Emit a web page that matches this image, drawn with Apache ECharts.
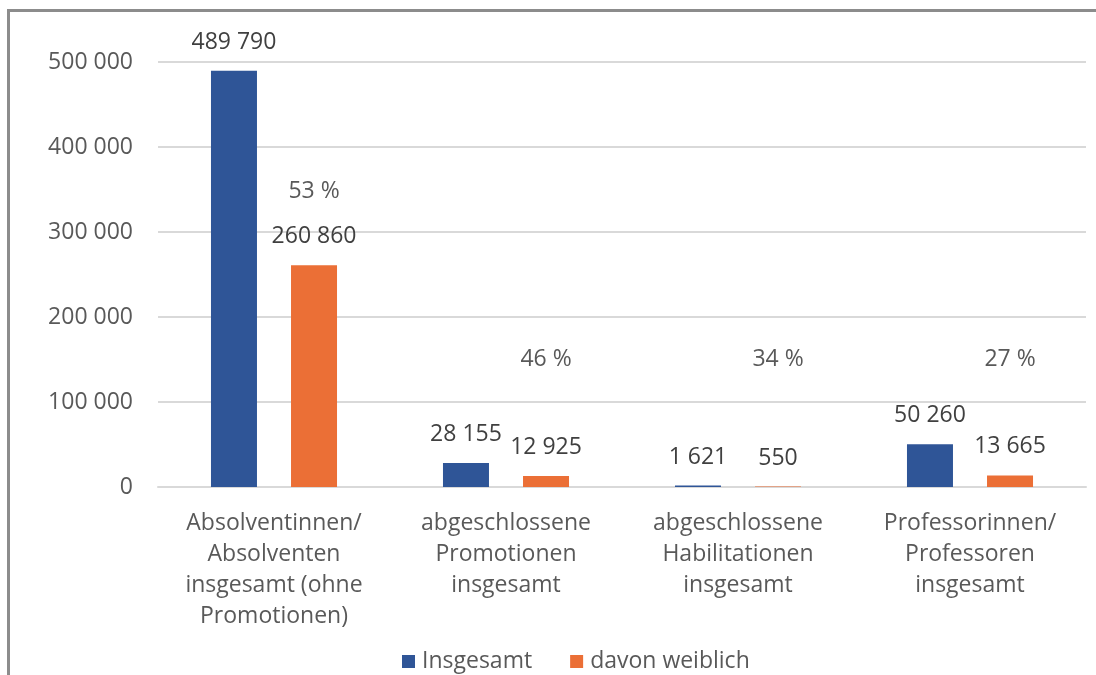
<!DOCTYPE html>
<html>
<head>
<meta charset="utf-8">
<script src="https://cdn.jsdelivr.net/npm/echarts@6/dist/echarts.min.js"></script>
<style>
  html, body { margin: 0; padding: 0; background: #ffffff; }
  #chart { width: 1096px; height: 675px; }
</style>
</head>
<body>
<div id="chart"></div>
<script>
// Categories and values
const categories = [
  'Absolventinnen/\nAbsolventen\ninsgesamt (ohne\nPromotionen)',
  'abgeschlossene\nPromotionen\ninsgesamt',
  'abgeschlossene\nHabilitationen\ninsgesamt',
  'Professorinnen/\nProfessoren\ninsgesamt'
];
const insgesamt = [489790, 28155, 1621, 50260];
const weiblich = [260860, 12925, 550, 13665];
const seriesNames = ['Insgesamt', 'davon weiblich'];
const yTicks = [0, 100000, 200000, 300000, 400000, 500000];

// Height (axis units) where each share annotation sits
const shareLabelLevel = [348000, 150000, 150000, 150000];

const FONT = '"Open Sans", sans-serif';
const fmt = v => String(Math.round(v)).replace(/\B(?=(\d{3})+(?!\d))/g, ' ');

const shares = weiblich.map((w, i) => Math.round(w / insgesamt[i] * 100));

const chart = echarts.init(document.getElementById('chart'));
chart.setOption({
  animation: false,
  backgroundColor: '#ffffff',
  textStyle: { fontFamily: FONT },
  graphic: [{
    type: 'rect',
    shape: { x: 8.5, y: 10.5, width: 1200, height: 800 },
    style: { fill: 'none', stroke: '#8c8c8c', lineWidth: 3 },
    silent: true,
    z: 100
  }],
  grid: { left: 158, right: 10, top: 62, bottom: 188, containLabel: false },
  legend: {
    data: seriesNames,
    left: 397,
    top: 645,
    icon: 'rect',
    itemWidth: 13,
    itemHeight: 13,
    itemGap: 38,
    textStyle: { fontFamily: FONT, fontSize: 23, color: '#595959', padding: [0, 0, 0, 2] }
  },
  xAxis: {
    type: 'category',
    data: categories,
    axisLine: { show: true, lineStyle: { color: '#d9d9d9', width: 2 } },
    axisTick: { show: false },
    axisLabel: {
      interval: 0,
      margin: 21,
      fontFamily: FONT,
      fontSize: 23,
      lineHeight: 31,
      color: '#595959',
      align: 'center'
    }
  },
  yAxis: {
    type: 'value',
    min: yTicks[0],
    max: yTicks[yTicks.length - 1],
    interval: yTicks[1] - yTicks[0],
    axisLine: { show: false },
    axisTick: { show: false },
    splitLine: { lineStyle: { color: '#d9d9d9', width: 2 } },
    axisLabel: {
      margin: 25,
      fontFamily: FONT,
      fontSize: 23,
      color: '#595959',
      formatter: v => fmt(v)
    }
  },
  series: [
    {
      name: seriesNames[0],
      type: 'bar',
      data: insgesamt,
      barWidth: 46,
      barGap: '74%',
      itemStyle: { color: '#2f5597' },
      label: {
        show: true,
        position: 'top',
        distance: 17,
        fontFamily: FONT,
        fontSize: 23,
        color: '#404040',
        formatter: p => fmt(p.value)
      }
    },
    {
      name: seriesNames[1],
      type: 'bar',
      data: weiblich,
      barWidth: 46,
      itemStyle: { color: '#eb6f36' },
      label: {
        show: true,
        position: 'top',
        distance: 17,
        fontFamily: FONT,
        fontSize: 23,
        color: '#404040',
        formatter: p => fmt(p.value)
      },
      markPoint: {
        symbol: 'rect',
        symbolSize: 1,
        itemStyle: { color: 'rgba(0,0,0,0)' },
        label: {
          show: true,
          position: 'inside',
          fontFamily: FONT,
          fontSize: 23,
          color: '#595959',
          formatter: p => p.value + ' %'
        },
        data: shares.map((s, i) => ({ coord: [i, shareLabelLevel[i]], value: s }))
      }
    }
  ]
});
</script>
</body>
</html>
